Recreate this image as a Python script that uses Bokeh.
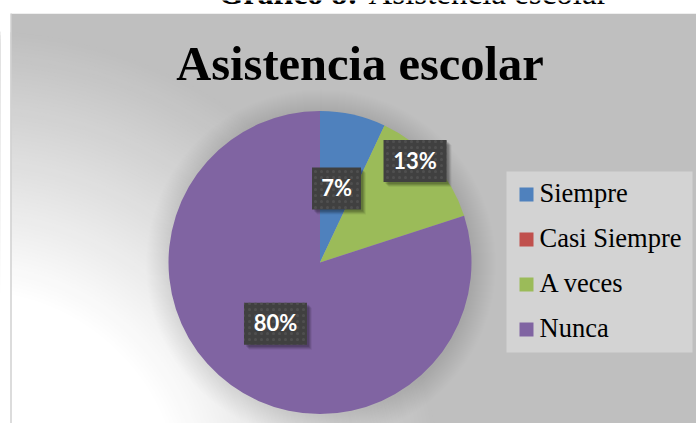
import numpy as np
from bokeh.plotting import figure
from bokeh.models import Range1d, ColumnDataSource
from bokeh.core.properties import value
from bokeh.embed import file_html
from bokeh.resources import INLINE

# ---------------- data ----------------
categories = ["Siempre", "Casi Siempre", "A veces", "Nunca"]
percentages = [7, 0, 13, 80]
colors = ["#4F81BD", "#C0504D", "#9BBB59", "#8064A2"]
chart_title = "Asistencia escolar"
caption_bold = "Gráfico 8:"
caption_rest = "Asistencia escolar"

# ---------------- layout (page pixel coordinates) ----------------
W, H = 696, 423


def Y(py):
    return H - py


def base(py, size):
    # svg backend draws "alphabetic" text ~0.36 em low; compensate
    return Y(py) + 0.36 * size


CX, CY, R = 319.5, Y(262), 151.5
label_r_frac = [0.5, 0.5, 0.918, 0.5]
label_shift_deg = [0.0, 0.0, 5.5, 0.0]

p = figure(width=W, height=H, x_range=Range1d(0, W), y_range=Range1d(0, H),
           output_backend="svg", toolbar_location=None, min_border=0,
           x_axis_location=None, y_axis_location=None)
p.grid.visible = False
p.outline_line_color = None
p.background_fill_color = "white"
p.border_fill_color = "white"

# chart area background
p.quad(left=[10.5], right=[720], top=[Y(13)], bottom=[Y(440)],
       fill_color="#bfbfbf", line_color=None)

# radial gradient towards the bottom-left corner
r0, r1 = 210.0, 470.0
radii = np.linspace(r1, r0, 70)
grad_cols = []
for r in radii:
    t = (r - r0) / (r1 - r0)
    c = int(round(255 - t * (255 - 191)))
    grad_cols.append("#%02x%02x%02x" % (c, c, c))
p.circle(x=[-30] * len(radii), y=[Y(500)] * len(radii), radius=list(radii),
         fill_color=grad_cols, line_color=None)

# masks outside the chart area
p.quad(left=[-50], right=[10], top=[600], bottom=[-100], fill_color="white", line_color=None)
p.quad(left=[-50], right=[800], top=[600], bottom=[Y(13)], fill_color="white", line_color=None)
p.line(x=[10.5, 10.5], y=[Y(13), Y(440)], line_color="#d0d0d0", line_width=1.5)

# pie shadow
sh_r = [R + k for k in range(24, 0, -1)]
p.circle(x=[CX + 1] * len(sh_r), y=[CY - 2] * len(sh_r), radius=sh_r,
         fill_color="black", fill_alpha=0.005, line_color=None)

# pie wedges (start at top, clockwise)
cum = np.concatenate([[0], np.cumsum(percentages)])
total = float(cum[-1])
starts = np.pi / 2 - 2 * np.pi * cum[:-1] / total
ends = np.pi / 2 - 2 * np.pi * cum[1:] / total
keep = [i for i, v in enumerate(percentages) if v > 0]
wsrc = ColumnDataSource(dict(
    start=[starts[i] for i in keep], end=[ends[i] for i in keep],
    color=[colors[i] for i in keep]))
p.wedge(x=CX, y=CY, radius=R, start_angle="start", end_angle="end",
        direction="clock", fill_color="color", line_color=None, source=wsrc)

# data labels
lx, ly, lt, lw = [], [], [], []
for i in keep:
    mid = (starts[i] + ends[i]) / 2 + np.deg2rad(label_shift_deg[i])
    rr = R * label_r_frac[i]
    lx.append(CX + rr * np.cos(mid))
    ly.append(CY + rr * np.sin(mid))
    txt = f"{percentages[i]}%"
    lt.append(txt)
    lw.append(21 + 14 * len(txt))
BOX_H = 42
for k, a in [(2, 0.12), (3, 0.12), (4, 0.1), (5, 0.06)]:
    p.rect(x=[x + k for x in lx], y=[y - k for y in ly], width=lw, height=BOX_H,
           fill_color="black", fill_alpha=a, line_color=None)
p.rect(x=lx, y=ly, width=lw, height=BOX_H, fill_color="#404040", line_color=None,
       hatch_pattern="dot", hatch_color="#4f4f4f", hatch_scale=6, hatch_weight=1.5)
p.text(x=lx, y=[y - 7 + 0.36 * 22 for y in ly], text=lt, text_align="center",
       text_baseline="alphabetic",
       text_font=value("Lato"), text_font_style="bold", text_font_size="22px",
       text_color="white")

# legend
p.quad(left=[506], right=[692], top=[Y(171)], bottom=[Y(352)],
       fill_color="#d3d3d3", line_color=None)
row_py = [194 + 45 * i for i in range(len(categories))]
p.rect(x=[526] * len(categories), y=[Y(v) for v in row_py], width=14, height=14,
       fill_color=colors, line_color=None)
p.text(x=[539] * len(categories), y=[base(v + 8, 26.5) for v in row_py], text=categories,
       text_align="left", text_baseline="alphabetic",
       text_font=value("Liberation Serif"), text_font_size="26.5px", text_color="black")

# chart title
p.text(x=[359.5], y=[base(80, 48.5)], text=[chart_title], text_align="center",
       text_baseline="alphabetic", text_font=value("Liberation Serif"),
       text_font_style="bold", text_font_size="48.5px", text_color="black")

# document caption (cut off at the top, as in the reference)
p.text(x=[218], y=[base(4, 32)], text=[caption_bold], text_align="left",
       text_baseline="alphabetic",
       text_font=value("Liberation Serif"), text_font_style="bold", text_font_size="32px",
       text_color="black")
p.text(x=[368], y=[base(4, 33)], text=[caption_rest], text_align="left",
       text_baseline="alphabetic",
       text_font=value("Liberation Serif"), text_font_size="33px", text_color="black")

open("out.html", "w").write(file_html(p, INLINE))
